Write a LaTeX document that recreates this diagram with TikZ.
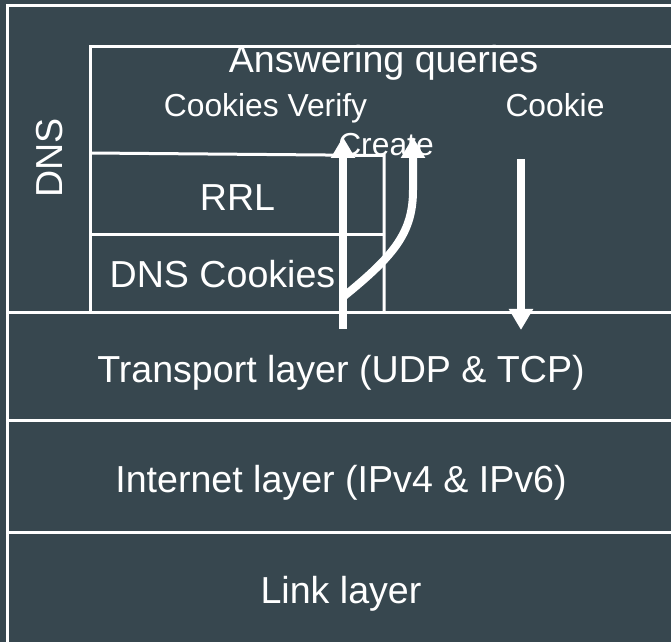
\documentclass[tikz,border=0pt]{standalone}
\usepackage{fontspec}
\setmainfont{Liberation Sans}
\usetikzlibrary{arrows.meta}
\definecolor{slate}{HTML}{37474F}
\begin{document}
\begin{tikzpicture}[x=0.5pt,y=-0.5pt,
  frame/.style={draw=white,line width=1.5pt},
  bigtext/.style={text=white,font=\fontsize{18.8pt}{22pt}\selectfont,inner sep=0pt,anchor=base},
  smalltext/.style={text=white,font=\fontsize{15.9pt}{19pt}\selectfont,inner sep=0pt,anchor=base},
  flow/.style={draw=white,line width=4pt,line cap=butt,-{Triangle[width=11.5pt,length=10.5pt]}}]
\useasboundingbox (0,0) rectangle (671,642);
\clip (0,0) rectangle (671,642);
\fill[slate] (0,0) rectangle (671,642);

% protocol stack: outer frame and layer separators
\draw[frame] (7,6) rectangle (690,660);
\draw[frame] (7,312.5) -- (690,312.5);
\draw[frame] (7,421) -- (690,421);
\draw[frame] (7,532.5) -- (690,532.5);

% DNS application box
\draw[frame] (90,312.5) -- (90,47) -- (690,47);
% RRL and DNS Cookies sub-layers
\draw[frame] (90,153) -- (384,155.5) -- (384,312.5);
\draw[frame] (90,234.5) -- (384,234.5);

% labels
\node[bigtext,anchor=center,rotate=90] (dns) at (49.5,158) {DNS};
\node[bigtext] (answer) at (383.5,73) {Answering queries};
\node[smalltext] (verify) at (265.5,117) {Cookies Verify};
\node[smalltext] (cookie) at (555,117) {Cookie};
\node[smalltext] (create) at (386,156) {Create};
\node[bigtext] (rrl) at (237.5,210.5) {RRL};
\node[bigtext] (cookies) at (222.5,287.5) {DNS Cookies};
\node[bigtext] (transport) at (341,383) {Transport layer (UDP \& TCP)};
\node[bigtext] (internet) at (341,492.5) {Internet layer (IPv4 \& IPv6)};
\node[bigtext] (link) at (341,603.5) {Link layer};

% query / response flows
\coordinate (upStart) at (343,329);
\coordinate (upEnd) at (343,137);
\coordinate (crStart) at (343,297);
\coordinate (crEnd) at (413,137);
\coordinate (downStart) at (521,159);
\coordinate (downEnd) at (521,330);
\draw[flow] (upStart) -- (upEnd);
\draw[flow] (crStart) .. controls (395,255) and (413,232) .. (413,190) -- (crEnd);
\draw[flow] (downStart) -- (downEnd);
\end{tikzpicture}
\end{document}
